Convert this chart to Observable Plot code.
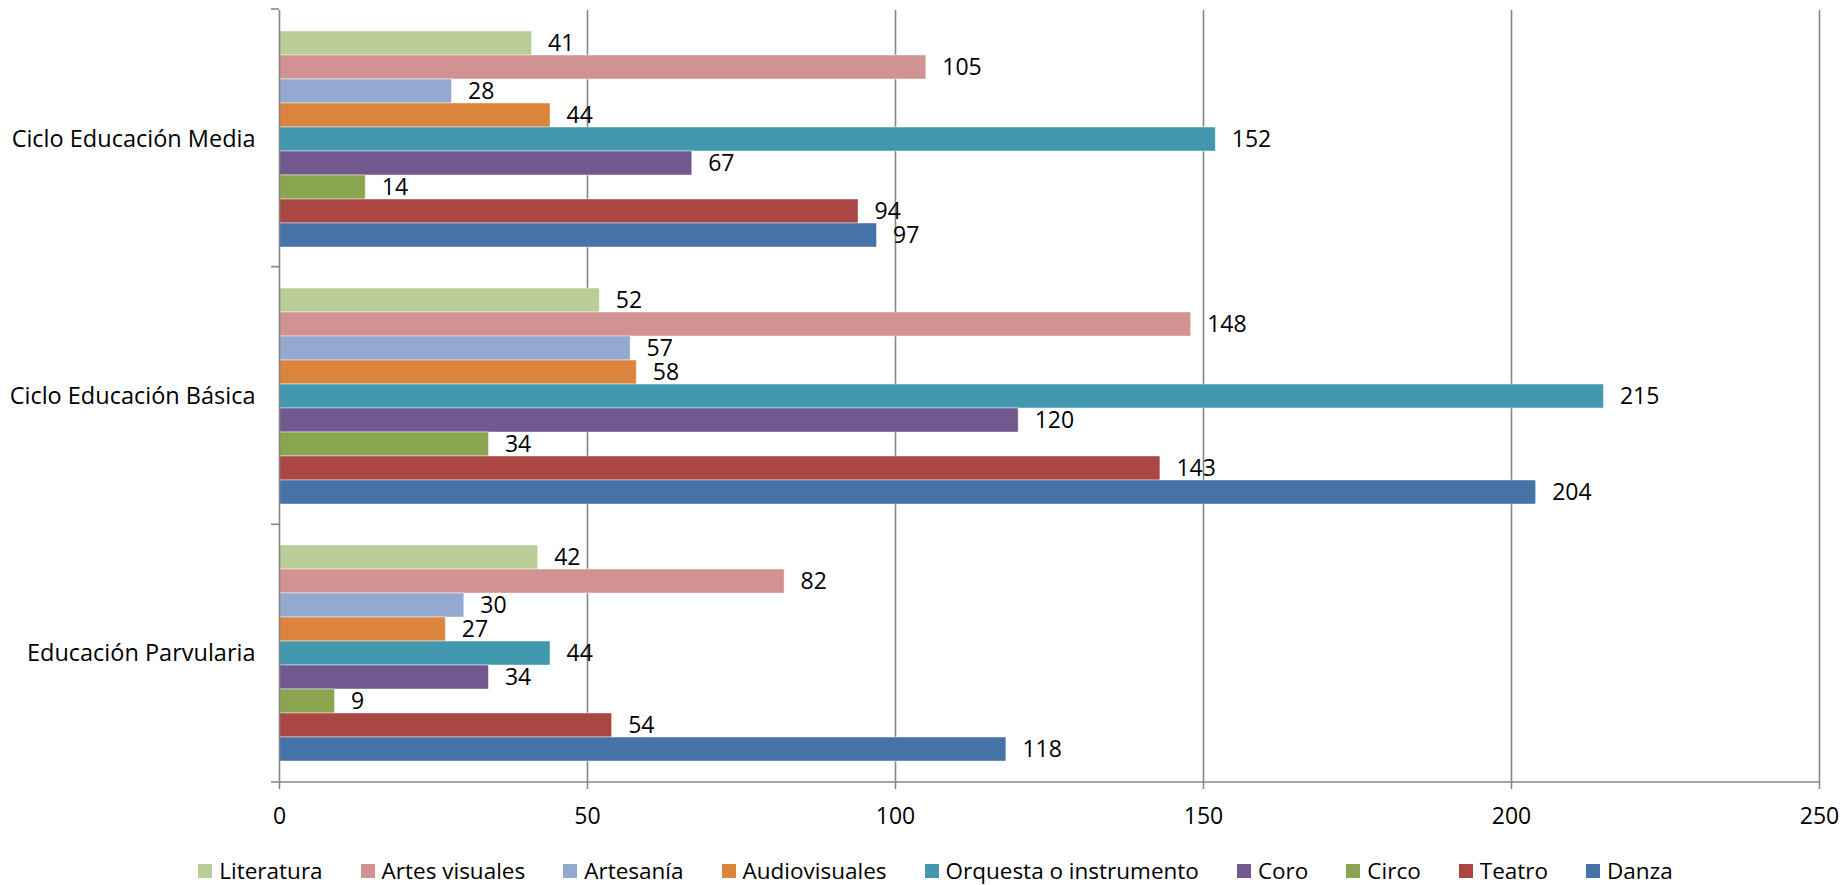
<!DOCTYPE html>
<html>
<head>
<meta charset="utf-8">
<script src="https://cdn.jsdelivr.net/npm/d3@7"></script>
<script src="https://cdn.jsdelivr.net/npm/@observablehq/plot@0.6"></script>
<style>
  html, body { margin: 0; padding: 0; background: #fff; }
  #wrap { position: relative; width: 1843px; height: 885px; font-family: "Open Sans", sans-serif; color: #000; }
  #legend { position: absolute; left: 0; top: 856px; width: 1843px; display: flex; justify-content: center; gap: 38px; font-size: 22.5px; line-height: 30px; padding-left: 28px; box-sizing: border-box; }
  .item { display: flex; align-items: center; gap: 7px; white-space: nowrap; }
  .sw { width: 14px; height: 14px; display: inline-block; }
</style>
</head>
<body>
<div id="wrap"><div id="chart"></div><div id="legend"></div></div>
<script>
const groups = ["Ciclo Educación Media", "Ciclo Educación Básica", "Educación Parvularia"];
const series = ["Literatura", "Artes visuales", "Artesanía", "Audiovisuales", "Orquesta o instrumento", "Coro", "Circo", "Teatro", "Danza"];
const colors = ["#B9CD96", "#D19392", "#93A9CF", "#DB843D", "#4198AF", "#71588F", "#89A54E", "#AA4643", "#4572A7"];
const xTicks = [0, 50, 100, 150, 200, 250];

// values per series, in the order of groups
const literatura    = [41, 52, 42];
const artesVisuales = [105, 148, 82];
const artesania     = [28, 57, 30];
const audiovisuales = [44, 58, 27];
const orquesta      = [152, 215, 44];
const coro          = [67, 120, 34];
const circo         = [14, 34, 9];
const teatro        = [94, 143, 54];
const danza         = [97, 204, 118];

const seriesValues = [literatura, artesVisuales, artesania, audiovisuales, orquesta, coro, circo, teatro, danza];
const data = [];
groups.forEach((g, gi) => series.forEach((s, si) => data.push({group: g, series: s, value: seriesValues[si][gi]})));

const W = 1843, H = 835, mL = 279, mR = 24, mT = 9, mB = 53;
const grid = "#868686";

const chart = Plot.plot({
  width: W, height: H,
  marginLeft: mL, marginRight: mR, marginTop: mT, marginBottom: mB,
  style: {fontFamily: "'Open Sans', sans-serif", fontSize: "23px", color: "#000", background: "#fff"},
  x: {domain: [0, 250]},
  y: {domain: series, paddingInner: 0, paddingOuter: 0.716, axis: null},
  fy: {domain: groups, padding: 0},
  color: {domain: series, range: colors},
  marks: [
    Plot.gridX({ticks: [50, 100, 150, 200, 250], stroke: grid, strokeOpacity: 1, strokeWidth: 1.6}),
    Plot.barX(data, {fy: "group", y: "series", x: "value", fill: "series", stroke: "#fff", strokeOpacity: 0.45, strokeWidth: 1}),
    Plot.text(data, {fy: "group", y: "series", x: "value", text: d => String(d.value), textAnchor: "start", dx: 16, fill: "#000", fontSize: 23}),
    Plot.ruleX([0], {stroke: grid, strokeWidth: 1.6}),
    Plot.axisX({ticks: xTicks, tickSize: 8, tickPadding: 18, stroke: grid, strokeWidth: 1.6, fill: "#000", label: null, fontSize: 23}),
    Plot.axisFy({anchor: "left", tickSize: 0, tickPadding: 24, label: null, fill: "#000", fontSize: 23.5})
  ]
});
document.getElementById("chart").appendChild(chart);

// axis tick marks at group boundaries and the bottom axis line
const xs = chart.scale("x");
const x0 = xs.apply(0), x1 = xs.apply(250);
const svg = d3.select(chart);
const fH = (H - mT - mB) / groups.length;
for (let i = 0; i <= groups.length; i++) {
  const yy = mT + i * fH;
  svg.append("line")
    .attr("x1", x0 - 8).attr("x2", i === groups.length ? x1 : x0)
    .attr("y1", yy).attr("y2", yy)
    .attr("stroke", grid).attr("stroke-width", 1.6);
}

// legend
const legend = d3.select("#legend");
series.forEach((s, i) => {
  const it = legend.append("div").attr("class", "item");
  it.append("span").attr("class", "sw").style("background", colors[i]);
  it.append("span").text(s);
});
</script>
</body>
</html>
